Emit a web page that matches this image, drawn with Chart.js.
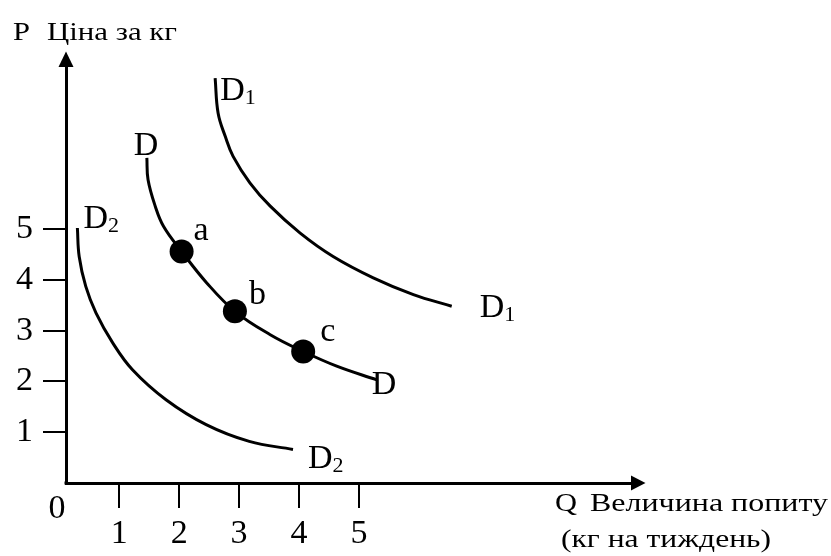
<!DOCTYPE html>
<html><head><meta charset="utf-8">
<script src="https://cdn.jsdelivr.net/npm/chart.js@4/dist/chart.umd.min.js"></script>
<style>html,body{margin:0;padding:0;background:#fff}canvas{display:block}</style>
</head><body>
<canvas id="c" width="831" height="556"></canvas>
<script>
// ---- data ----
const xTicks = [1, 2, 3, 4, 5];
const yTicks = [1, 2, 3, 4, 5];
const originLabel = '0';
const yTitle = ['P', 'Ціна за кг'];
const xTitle = ['Q', 'Величина попиту', '(кг на тиждень)'];

const d1Q = [2.60, 2.65, 2.77, 2.90, 3.18, 3.52, 4.02, 4.57, 5.24, 5.91, 6.55];
const d1P = [7.97, 7.28, 6.82, 6.43, 5.91, 5.45, 4.92, 4.46, 4.04, 3.71, 3.48];
const dQ  = [1.46, 1.48, 1.60, 1.74, 2.04, 2.46, 2.93, 3.52, 4.07, 4.63, 5.30];
const dP  = [6.40, 5.97, 5.45, 5.05, 4.56, 3.94, 3.38, 2.92, 2.59, 2.30, 2.03];
const d2Q = [0.30, 0.33, 0.44, 0.61, 0.89, 1.22, 1.78, 2.45, 3.17, 3.90];
const d2P = [5.02, 4.46, 3.87, 3.35, 2.76, 2.23, 1.64, 1.15, 0.82, 0.66];
const curveSub = ['1', '', '2'];
const pointNames = ['a', 'b', 'c'];
const pointQ = [2.04, 2.93, 4.07];
const pointP = [4.56, 3.38, 2.59];

const FONT = '"Liberation Serif","Times New Roman",serif';
const toXY = (q, p) => q.map((v, i) => ({x: v, y: p[i]}));
const curves = [toXY(d1Q, d1P), toXY(dQ, dP), toXY(d2Q, d2P)];

// label offsets (pixels) for start/end of each curve and for the points
const curveLabelOff = [
  {start: [5, 22], end: [28, 11]},
  {start: [-13, -3], end: [-5, 14]},
  {start: [6, 0], end: [15, 19]}
];
const pointLabelOff = [[12, -11], [14, -7], [17, -10]];

function fitText(ctx, text, left, right, baseline, size) {
  ctx.font = size + 'px ' + FONT;
  const w = ctx.measureText(text).width;
  const sx = (right - left) / w;
  ctx.save();
  ctx.translate(left, baseline);
  ctx.scale(sx, 1);
  ctx.textAlign = 'left';
  ctx.textBaseline = 'alphabetic';
  ctx.fillText(text, 0, 0);
  ctx.restore();
}

const deco = {
  id: 'deco',
  afterDraw(chart) {
    const ctx = chart.ctx, xs = chart.scales.x, ys = chart.scales.y, a = chart.chartArea;
    ctx.save();
    ctx.fillStyle = '#000';
    // arrowheads
    const ax = ys.right;
    ctx.beginPath();
    ctx.moveTo(ax - 7.5, a.top + 1);
    ctx.lineTo(ax + 7.5, a.top + 1);
    ctx.lineTo(ax, a.top - 14.5);
    ctx.closePath(); ctx.fill();
    const ay = xs.top;
    ctx.beginPath();
    ctx.moveTo(a.right - 1, ay - 7.5);
    ctx.lineTo(a.right - 1, ay + 7.5);
    ctx.lineTo(a.right + 13.5, ay);
    ctx.closePath(); ctx.fill();
    // corner
    ctx.fillRect(ax - 1.5, ay - 1.5, 3, 3);

    // origin label
    ctx.font = '34px ' + FONT;
    ctx.textAlign = 'center';
    ctx.textBaseline = 'alphabetic';
    ctx.fillText(originLabel, ax - 9, ay + 35);

    // axis titles
    fitText(ctx, yTitle[0], 13, 30, 40, 25);
    fitText(ctx, yTitle[1], 47, 177, 40, 25);
    fitText(ctx, xTitle[0], 555, 577, 511, 25);
    fitText(ctx, xTitle[1], 590, 828, 511, 25);
    fitText(ctx, xTitle[2], 561, 771, 547, 25);

    // curve labels
    ctx.textAlign = 'left';
    ctx.textBaseline = 'alphabetic';
    const drawD = (px, py, sub) => {
      ctx.font = '34px ' + FONT;
      ctx.fillText('D', px, py);
      if (sub) {
        const w = ctx.measureText('D').width;
        ctx.font = '22px ' + FONT;
        ctx.fillText(sub, px + w, py + 4);
      }
    };
    curves.forEach((pts, i) => {
      const s = pts[0], e = pts[pts.length - 1];
      const o = curveLabelOff[i];
      drawD(xs.getPixelForValue(s.x) + o.start[0], ys.getPixelForValue(s.y) + o.start[1], curveSub[i]);
      drawD(xs.getPixelForValue(e.x) + o.end[0], ys.getPixelForValue(e.y) + o.end[1], curveSub[i]);
    });
    ctx.font = '34px ' + FONT;
    pointNames.forEach((n, i) => {
      ctx.fillText(n, xs.getPixelForValue(pointQ[i]) + pointLabelOff[i][0],
                      ys.getPixelForValue(pointP[i]) + pointLabelOff[i][1]);
    });
    ctx.restore();
  }
};

const lineDs = pts => ({
  data: pts, showLine: true, borderColor: '#000', borderWidth: 3,
  pointRadius: 0, tension: 0.4, fill: false, borderCapStyle: 'butt'
});

new Chart(document.getElementById('c'), {
  type: 'scatter',
  data: {
    datasets: [
      lineDs(curves[0]), lineDs(curves[1]), lineDs(curves[2]),
      {data: toXY(pointQ, pointP), pointRadius: 12, pointBackgroundColor: '#000',
       pointBorderColor: '#000', pointBorderWidth: 0, showLine: false}
    ]
  },
  options: {
    responsive: false, animation: false, devicePixelRatio: 1,
    layout: {padding: {top: 66, right: 199, left: 0, bottom: 0}},
    plugins: {legend: {display: false}, tooltip: {enabled: false}},
    scales: {
      x: {
        type: 'linear', position: 'bottom', min: 0.11, max: 9.56,
        afterFit: s => { s.height = 73; },
        afterBuildTicks: s => { s.ticks = xTicks.map(v => ({value: v})); },
        ticks: {font: {family: FONT, size: 34}, color: '#000', padding: 6},
        grid: {drawOnChartArea: false, drawTicks: true, tickLength: 25, lineWidth: 2, color: '#000'},
        border: {display: true, color: '#000', width: 3}
      },
      y: {
        type: 'linear', position: 'left', min: 0, max: 8.21,
        afterFit: s => { s.width = 66; },
        afterBuildTicks: s => { s.ticks = yTicks.map(v => ({value: v})); },
        ticks: {font: {family: FONT, size: 34}, color: '#000', padding: 10},
        grid: {drawOnChartArea: false, drawTicks: true, tickLength: 23, lineWidth: 2, color: '#000'},
        border: {display: true, color: '#000', width: 3}
      }
    }
  },
  plugins: [deco]
});
</script>
</body></html>
